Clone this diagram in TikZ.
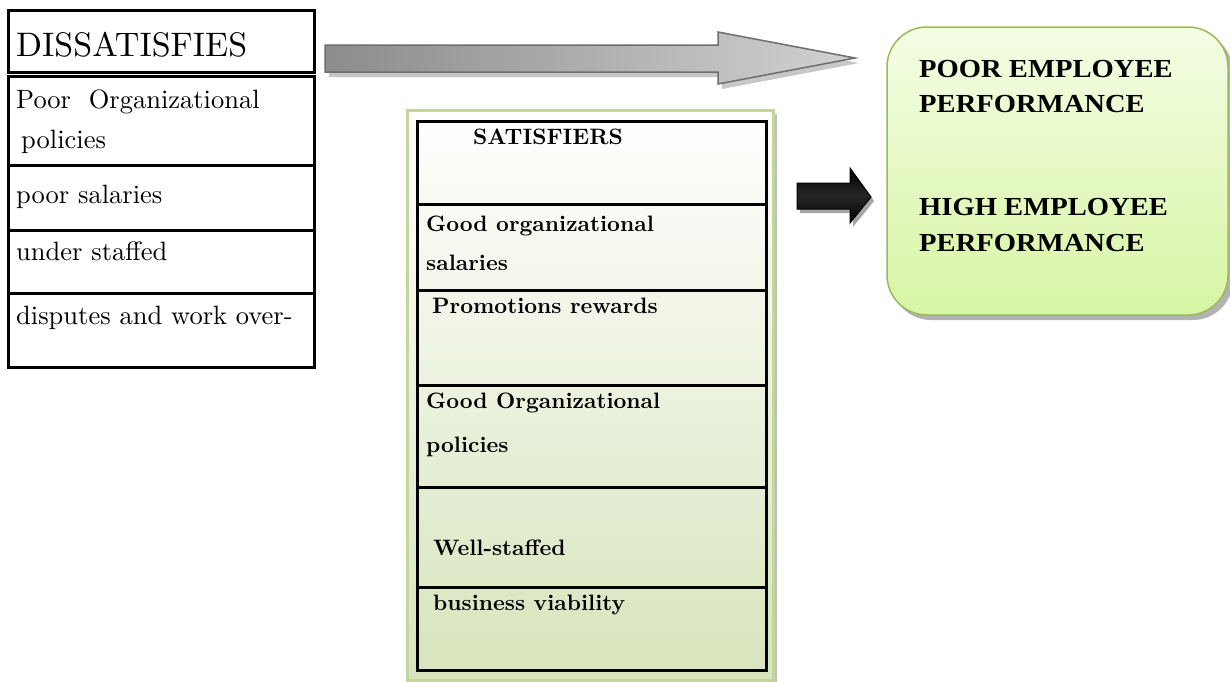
\documentclass[tikz,border=0pt]{standalone}
\usepackage{fontspec}
\newfontfamily\timesfont{Liberation Serif}
\newfontfamily\lmten{lmroman10-regular.otf}[BoldFont=lmroman10-bold.otf]
\definecolor{sgreen}{HTML}{D7E4BC}
\definecolor{sborder}{HTML}{C3D69B}
\definecolor{gtop}{HTML}{F3FDE4}
\definecolor{gbot}{HTML}{D8F5A4}
\definecolor{gborder}{HTML}{9BBB59}
\definecolor{arrowedge}{HTML}{6E6E6E}
\begin{document}
\begin{tikzpicture}[x=1pt,y=-1pt,
  tbl/.style={draw=black,line width=3pt},
  ltxt/.style={anchor=base west,inner sep=0pt,font=\lmten\fontsize{26.5}{30}\selectfont},
  stxt/.style={anchor=base west,inner sep=0pt,font=\lmten\fontsize{22.3}{27}\selectfont\bfseries},
  rtxt/.style={anchor=base west,inner sep=0pt,font=\fontsize{26}{30}\selectfont\timesfont\bfseries}]
\useasboundingbox (0,0) rectangle (1230,681);
\fill[white] (0,0) rectangle (1230,681);

% ---------- left table ----------
\draw[tbl] (8,10) rectangle (314,72);
\node[anchor=base west,inner sep=0pt,font=\lmten\fontsize{34}{36}\selectfont] (dis) at (16,56) {DISSATISFIES};
\draw[tbl] (8,76) rectangle (314,367);
\draw[tbl] (8,165) -- (314,165);
\draw[tbl] (8,230) -- (314,230);
\draw[tbl] (8,293) -- (314,293);
\node[ltxt] (d1a) at (16,108) {Poor\ \ Organizational};
\node[ltxt] (d1b) at (21,148) {policies};
\node[ltxt] (d2) at (16,203) {poor salaries};
\node[ltxt] (d3) at (16,260) {under staffed};
\node[ltxt] (d4) at (16,324) {disputes and work over-};

% ---------- gray arrow ----------
\fill[black!22] (329,50) -- (722,50) -- (722,37) -- (859,63) -- (722,89) -- (722,77) -- (329,77) -- cycle;
\shadedraw[left color=black!45,right color=black!18,draw=arrowedge,line width=1.5pt]
  (325,45) -- (718,45) -- (718,32) -- (855,58) -- (718,84) -- (718,72) -- (325,72) -- cycle;

% ---------- satisfiers ----------
\fill[black!25] (411,114) rectangle (777,684);
\shade[top color=white,bottom color=sgreen] (407,110) rectangle (773,680);
\draw[draw=sborder,line width=3pt] (407,110) rectangle (773,680);
\draw[tbl] (417,121) rectangle (766,670);
\draw[tbl] (417,204) -- (766,204);
\draw[tbl] (417,290) -- (766,290);
\draw[tbl] (417,385) -- (766,385);
\draw[tbl] (417,487) -- (766,487);
\draw[tbl] (417,587) -- (766,587);
\node[stxt] (sat) at (473,144) {SATISFIERS};
\node[stxt] (s1a) at (426,231) {Good organizational};
\node[stxt] (s1b) at (426,270) {salaries};
\node[stxt] (s2) at (432,313) {Promotions rewards};
\node[stxt] (s3a) at (426,408) {Good Organizational};
\node[stxt] (s3b) at (426,452) {policies};
\node[stxt] (s4) at (433,555) {Well-staffed};
\node[stxt] (s5) at (433,610) {business viability};

% ---------- black arrow ----------
\fill[black!35] (800,187) -- (853,187) -- (853,172) -- (874,201) -- (853,227) -- (853,213) -- (800,213) -- cycle;
\shadedraw[top color=black,bottom color=black,middle color=black!85,draw=black,line width=1pt]
  (797,183) -- (850,183) -- (850,168) -- (871,197) -- (850,223) -- (850,209) -- (797,209) -- cycle;

% ---------- outcome box ----------
\fill[black!30,rounded corners=40pt] (891,32) rectangle (1233,320);
\shadedraw[top color=gtop,bottom color=gbot,draw=gborder,line width=1.5pt,rounded corners=40pt]
  (887,27) rectangle (1228,315);
\node[rtxt] (p1) at (919,77) {\scalebox{1.1}[1]{POOR EMPLOYEE}};
\node[rtxt] (p2) at (919,112) {\scalebox{1.1}[1]{PERFORMANCE}};
\node[rtxt] (h1) at (919,215) {\scalebox{1.1}[1]{HIGH EMPLOYEE}};
\node[rtxt] (h2) at (919,251) {\scalebox{1.1}[1]{PERFORMANCE}};
\end{tikzpicture}
\end{document}
